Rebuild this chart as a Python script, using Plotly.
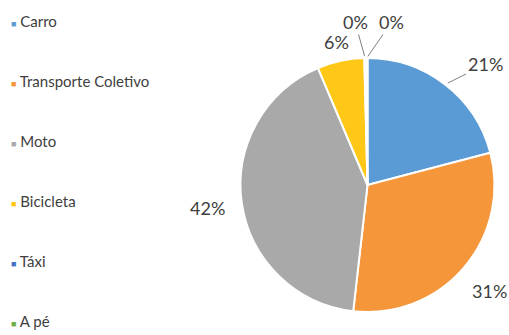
import math
import plotly.graph_objects as go

categories = ["Carro", "Transporte Coletivo", "Moto", "Bicicleta", "Táxi", "A pé"]
values = [21, 31, 42, 6, 0.2, 0.2]
colors = ["#5B9BD5", "#F5963A", "#A9A9A9", "#FFC817", "#4472C4", "#70AD47"]

W, H = 509, 335
dom_x = [240 / W, 495 / W]
dom_y = [1 - 312 / H, 1 - 58 / H]

fig = go.Figure()
fig.add_trace(go.Pie(
    labels=categories, values=values, sort=False, direction="clockwise", rotation=0,
    marker=dict(colors=colors, line=dict(color="white", width=2)),
    textinfo="none",
    domain=dict(x=dom_x, y=dom_y),
    showlegend=False, hoverinfo="label+percent",
))

# pie geometry in pixels (from the domain)
cx = (dom_x[0] + dom_x[1]) / 2 * W
cy = (1 - (dom_y[0] + dom_y[1]) / 2) * H
r = min((dom_x[1] - dom_x[0]) * W, (dom_y[1] - dom_y[0]) * H) / 2

total = sum(values)
annotations = []
cum = 0
tiny_offsets = [(-10, -36), (25, -36)]
tiny_i = 0
for v in values:
    mid = (cum + v / 2) / total * 2 * math.pi
    cum += v
    pct = f"{round(v / total * 100):.0f}%"
    font = dict(family="Lato", size=18, color="#404040")
    ex, ey = cx + r * math.sin(mid), cy - r * math.cos(mid)
    if v / total < 0.01:
        ax, ay = tiny_offsets[tiny_i]
        tiny_i += 1
        annotations.append(dict(x=ex / W, y=1 - ey / H, xref="paper", yref="paper",
                                text=pct, showarrow=True, arrowhead=0, arrowwidth=1,
                                arrowcolor="#7F7F7F", ax=ax, ay=ay, font=font, standoff=2))
    elif mid < math.pi / 2:
        annotations.append(dict(x=ex / W, y=1 - ey / H, xref="paper", yref="paper",
                                text=pct, showarrow=True, arrowhead=0, arrowwidth=1,
                                arrowcolor="#7F7F7F", ax=40, ay=-20, font=font, standoff=3))
    else:
        k = 1.27 if v / total > 0.1 else 1.15
        lx, ly = cx + k * r * math.sin(mid), cy - k * r * math.cos(mid)
        annotations.append(dict(x=lx / W, y=1 - ly / H, xref="paper", yref="paper",
                                xanchor="center", yanchor="middle",
                                text=pct, showarrow=False, font=font))

# legend
for i, (c, col) in enumerate(zip(categories, colors)):
    annotations.append(dict(
        x=9 / W, y=1 - (21 + i * 60) / H, xref="paper", yref="paper",
        xanchor="left", yanchor="middle", showarrow=False,
        text=f"<span style='color:{col};font-size:9px'>■</span> {c}",
        font=dict(family="Lato", size=15, color="#404040"),
    ))

fig.update_layout(
    width=W, height=H, margin=dict(l=0, r=0, t=0, b=0),
    paper_bgcolor="white", plot_bgcolor="white",
    annotations=annotations,
)
fig.write_html("out.html")
